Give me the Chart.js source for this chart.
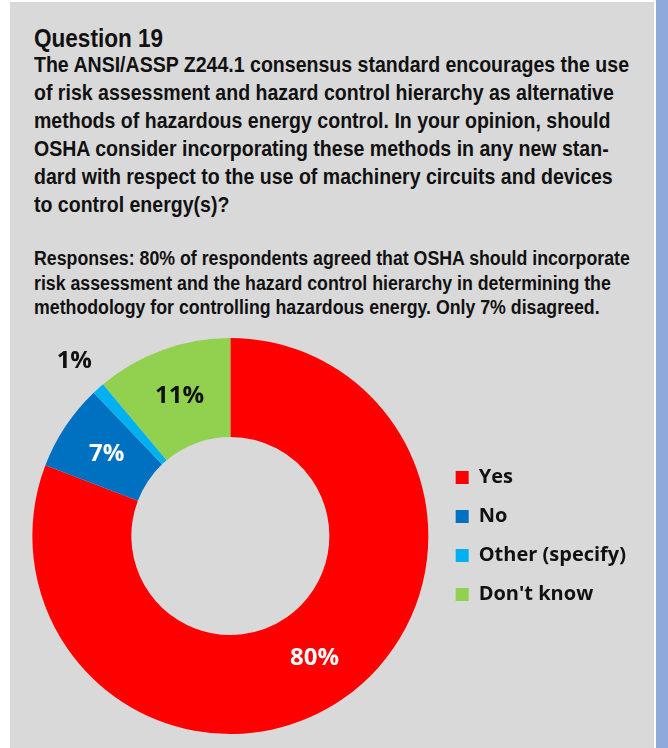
<!DOCTYPE html>
<html>
<head>
<meta charset="utf-8">
<script src="https://cdn.jsdelivr.net/npm/chart.js@4"></script>
<style>
  body { margin: 0; width: 668px; height: 748px; overflow: hidden; background: #fff; position: relative; }
  #panel { position: absolute; left: 10px; top: 2px; width: 644px; height: 746px; background: #d9d9d9; }
  #bar { position: absolute; left: 656px; top: 0; width: 12px; height: 748px; background: #8eaadb; }
  .txt { position: absolute; left: 34px; font-family: "Liberation Sans", sans-serif; font-weight: bold; color: #111; white-space: nowrap; }
  .txt span { display: inline-block; transform-origin: 0 0; }
  #q { top: 24px; font-size: 25px; line-height: 28px; }
  #body { top: 51px; font-size: 22px; line-height: 28px; }
  #resp { top: 246px; font-size: 19.5px; line-height: 24.5px; }
  #wrap { position: absolute; left: 10px; top: 330px; width: 626px; height: 418px; }
</style>
</head>
<body>
<div id="panel"></div>
<div id="bar"></div>
<div class="txt" id="q" data-w="129"><span>Question 19</span></div>
<div class="txt" id="body" data-w="595"><span>The ANSI/ASSP Z244.1 consensus standard encourages the use</span><br><span>of risk assessment and hazard control hierarchy as alternative</span><br><span>methods of hazardous energy control. In your opinion, should</span><br><span>OSHA consider incorporating these methods in any new stan-</span><br><span>dard with respect to the use of machinery circuits and devices</span><br><span>to control energy(s)?</span></div>
<div class="txt" id="resp" data-w="596"><span>Responses: 80% of respondents agreed that OSHA should incorporate</span><br><span>risk assessment and the hazard control hierarchy in determining the</span><br><span>methodology for controlling hazardous energy. Only 7% disagreed.</span></div>
<div id="wrap"><canvas id="pie"></canvas></div>
<script>
const labels = ["Yes", "No", "Other (specify)", "Don't know"];
const values = [80, 7, 1, 11];
const colors = ["#ff0000", "#0070c0", "#00b0f0", "#92d050"];
const labelColors = ["#ffffff", "#ffffff", "#111111", "#111111"];
const labelOutside = [false, false, true, false];

/* squeeze the heading text to the condensed look of the original */
document.querySelectorAll(".txt").forEach(block => {
  const lines = block.querySelectorAll("span");
  const sx = Number(block.dataset.w) / lines[0].offsetWidth;
  lines.forEach(l => { l.style.transform = `scaleX(${sx})`; });
});

/* Percent labels on the slices */
const sliceLabels = {
  id: "sliceLabels",
  afterDatasetsDraw(chart) {
    const ctx = chart.ctx;
    const arcs = chart.getDatasetMeta(0).data;
    ctx.save();
    ctx.font = "bold 24px 'Open Sans', sans-serif";
    ctx.textAlign = "center";
    ctx.textBaseline = "middle";
    arcs.forEach((arc, i) => {
      let pos = arc.tooltipPosition();
      if (labelOutside[i]) {
        const mid = (arc.startAngle + arc.endAngle) / 2;
        const r = arc.outerRadius + 36;
        pos = { x: arc.x + Math.cos(mid) * r, y: arc.y + Math.sin(mid) * r };
      }
      ctx.fillStyle = labelColors[i];
      ctx.fillText(values[i] + "%", pos.x, pos.y);
    });
    ctx.restore();
  }
};

new Chart(document.getElementById("pie"), {
  type: "doughnut",
  data: {
    labels: labels,
    datasets: [{
      data: values,
      backgroundColor: colors,
      borderWidth: 0
    }]
  },
  options: {
    responsive: true,
    maintainAspectRatio: false,
    animation: false,
    cutout: "50%",
    layout: { padding: { left: 14, top: 8, bottom: 14, right: 0 } },
    plugins: {
      tooltip: { enabled: false },
      legend: {
        position: "right",
        labels: {
          boxWidth: 13,
          boxHeight: 13,
          padding: 19,
          color: "#111",
          font: { family: "'Open Sans', sans-serif", size: 20, weight: "bold" }
        }
      }
    }
  },
  plugins: [sliceLabels]
});
</script>
</body>
</html>
